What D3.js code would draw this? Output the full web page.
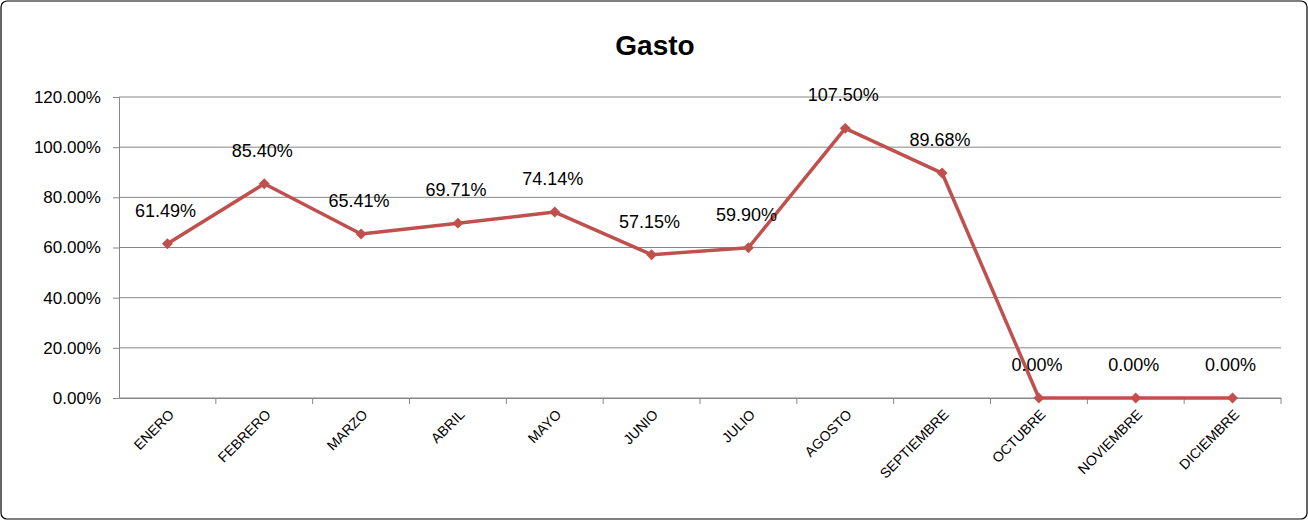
<!DOCTYPE html>
<html><head><meta charset="utf-8">
<script src="https://cdn.jsdelivr.net/npm/d3@7"></script>
<style>body{margin:0;background:#fff}svg{font-family:"Liberation Sans",Arial,sans-serif}</style>
</head><body><svg id="c" width="1308" height="520"></svg>
<script>
const categories=["ENERO","FEBRERO","MARZO","ABRIL","MAYO","JUNIO","JULIO","AGOSTO","SEPTIEMBRE","OCTUBRE","NOVIEMBRE","DICIEMBRE"];
const values=[61.49,85.40,65.41,69.71,74.14,57.15,59.90,107.50,89.68,0,0,0];
const yTicks=[0,20,40,60,80,100,120];
const svg=d3.select("#c");
svg.append("rect").attr("x",1).attr("y",1).attr("width",1306).attr("height",518).attr("rx",6).attr("fill","#fff").attr("stroke","#000").attr("stroke-width",1.2);
svg.append("text").attr("x",655).attr("y",55).attr("text-anchor","middle").attr("font-size",28).attr("font-weight","bold").text("Gasto");
const x=d3.scaleBand().domain(categories).range([119,1281]);
const y=d3.scaleLinear().domain([0,120]).range([398,97]);
const g=svg.append("g");
g.selectAll("line.grid").data(yTicks).join("line").attr("x1",119).attr("x2",1281).attr("y1",d=>y(d)).attr("y2",d=>y(d)).attr("stroke","#868686").attr("stroke-width",1);
const ya=svg.append("g").attr("transform","translate(119,0)").call(d3.axisLeft(y).tickValues(yTicks).tickSize(6).tickFormat(d=>d.toFixed(2)+"%"));
ya.selectAll("text").attr("font-size",17).attr("fill","#000").attr("dx",-9);
ya.selectAll("line,path").attr("stroke","#868686");
const xa=svg.append("g").attr("transform","translate(0,398)").call(d3.axisBottom(x).tickSize(6).tickSizeOuter(0));
xa.selectAll(".tick line").attr("transform",`translate(${x.bandwidth()/2},0)`);
xa.selectAll("line,path").attr("stroke","#868686");
xa.selectAll("text").attr("font-size",14).attr("fill","#000").attr("text-anchor","end").attr("transform","translate(4,14) rotate(-45)").attr("dy","0.35em").attr("y",0);
const cx=d=>x(d)+x.bandwidth()/2;
const pts=categories.map((c,i)=>[cx(c),y(values[i])]);
svg.append("path").attr("d",d3.line()(pts)).attr("fill","none").attr("stroke","#C0504D").attr("stroke-width",3.5).attr("stroke-linejoin","round");
svg.selectAll("path.m").data(pts).join("path").attr("d",d3.symbol(d3.symbolSquare,60)).attr("transform",d=>`translate(${d[0]},${d[1]}) rotate(45)`).attr("fill","#C0504D");
svg.selectAll("text.l").data(values).join("text").attr("x",(d,i)=>pts[i][0]-2).attr("y",(d,i)=>pts[i][1]-27).attr("text-anchor","middle").attr("font-size",18).text(d=>d.toFixed(2)+"%");
</script></body></html>
